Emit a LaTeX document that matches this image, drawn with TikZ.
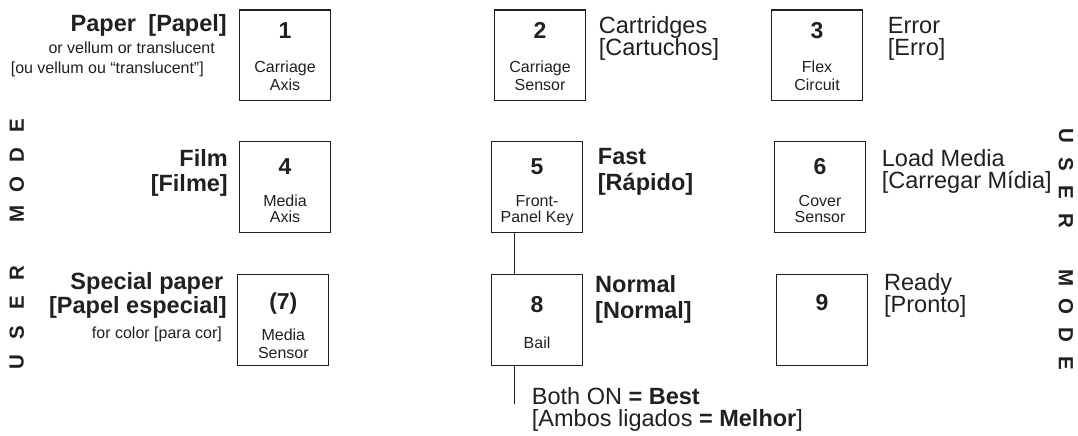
\documentclass[tikz,border=0pt]{standalone}
\usepackage{fontspec}
\setmainfont{Liberation Sans}
\definecolor{ink}{RGB}{35,31,32}
\begin{document}
\begin{tikzpicture}[x=1pt,y=-1pt,
  box/.style={draw=ink, line width=1.1pt, minimum width=91pt, minimum height=90.5pt, inner sep=0pt, anchor=north west},
  num/.style={font=\fontsize{23}{23}\selectfont\bfseries, text=ink, inner sep=0pt, anchor=base},
  sub/.style={font=\fontsize{16}{16}\selectfont, text=ink, inner sep=0pt, anchor=base},
  lblb/.style={font=\fontsize{23.5}{23.5}\selectfont\bfseries, text=ink, inner sep=0pt},
  lbl/.style={font={\fontsize{23.5}{22.3}\selectfont\lineskiplimit=-30pt}, text=ink, inner sep=0pt, anchor=base west, align=left},
  small/.style={font=\fontsize{16}{16}\selectfont, text=ink, inner sep=0pt, anchor=base east},
  model/.style={font=\fontsize{20.5}{20.5}\selectfont\bfseries, text=ink, inner sep=0pt, rotate=90},
  moder/.style={font=\fontsize{20.5}{20.5}\selectfont\bfseries, text=ink, inner sep=0pt, rotate=-90},
  conn/.style={draw=ink, line width=1pt}
]
\useasboundingbox (0,0) rectangle (1078,436);

% boxes
\node[box] (b1) at (239,9.5) {};
\node[box] (b2) at (494,9.5) {};
\node[box] (b3) at (771,9.5) {};
\node[box] (b4) at (239,141.3) {};
\node[box] (b5) at (491,141.3) {};
\node[box] (b6) at (774,141.3) {};
\node[box] (b7) at (237.3,274.3) {};
\node[box] (b8) at (491,274.3) {};
\node[box] (b9) at (776,274.3) {};

% numbers
\node[num] (n1) at ([yshift=-29pt]b1.north) {1};
\node[num] (n2) at ([yshift=-29pt]b2.north) {2};
\node[num] (n3) at ([yshift=-29pt]b3.north) {3};
\node[num] (n4) at ([yshift=-33pt]b4.north) {4};
\node[num] (n5) at ([yshift=-33pt]b5.north) {5};
\node[num] (n6) at ([yshift=-33pt]b6.north) {6};
\node[num] (n7) at ([yshift=-35pt]b7.north) {(7)};
\node[num] (n8) at ([yshift=-38pt]b8.north) {8};
\node[num] (n9) at ([yshift=-36pt]b9.north) {9};

% box sub-labels
\node[sub] (s1a) at ([yshift=-63.5pt]b1.north) {Carriage};
\node[sub] (s1b) at ([yshift=-81pt]b1.north) {Axis};
\node[sub] (s2a) at ([yshift=-63.5pt]b2.north) {Carriage};
\node[sub] (s2b) at ([yshift=-81pt]b2.north) {Sensor};
\node[sub] (s3a) at ([yshift=-63.5pt]b3.north) {Flex};
\node[sub] (s3b) at ([yshift=-81pt]b3.north) {Circuit};
\node[sub] (s4a) at ([yshift=-65pt]b4.north) {Media};
\node[sub] (s4b) at ([yshift=-81pt]b4.north) {Axis};
\node[sub] (s5a) at ([yshift=-65pt]b5.north) {Front-};
\node[sub] (s5b) at ([yshift=-81pt]b5.north) {Panel Key};
\node[sub] (s6a) at ([yshift=-65pt]b6.north) {Cover};
\node[sub] (s6b) at ([yshift=-81pt]b6.north) {Sensor};
\node[sub] (s7a) at ([yshift=-66pt]b7.north) {Media};
\node[sub] (s7b) at ([yshift=-84pt]b7.north) {Sensor};
\node[sub] (s8a) at ([yshift=-74pt]b8.north) {Bail};

% left labels
\node[lblb, anchor=base east] (t1a) at (227,31.7) {Paper\hspace{0.25em} [Papel]};
\node[small] (t1b) at (215,53.3) {or vellum or translucent};
\node[small] (t1c) at (204,74) {[ou vellum ou “translucent”]};
\node[lblb, anchor=base east] (t4a) at (228,166.5) {Film};
\node[lblb, anchor=base east] (t4b) at (228,191) {[Filme]};
\node[lblb, anchor=base east] (t7a) at (223.5,289.3) {Special paper};
\node[lblb, anchor=base east] (t7b) at (227,313.5) {[Papel especial]};
\node[small] (t7c) at (222,338.5) {for color [para cor]};

% right labels (anchored at the baseline of the last line)
\node[lbl] (t2) at (598.7,55.9) {Cartridges\\{}[Cartuchos]};
\node[lbl] (t3) at (887.7,55.9) {Error\\{}[Erro]};
\node[lblb, anchor=base west] (t5a) at (597.7,164) {Fast};
\node[lblb, anchor=base west] (t5b) at (597.7,190) {[Rápido]};
\node[lbl] (t6) at (881.7,188.3) {Load Media\\{}[Carregar Mídia]};
\node[lblb, anchor=base west] (t8a) at (595,292.7) {Normal};
\node[lblb, anchor=base west] (t8b) at (595,318.3) {[Normal]};
\node[lbl] (t9) at (884,312.3) {Ready\\{}[Pronto]};
\node[lbl] (tb) at (531.7,426.6) {Both ON \textbf{= Best}\\{}[Ambos ligados \textbf{= Melhor}]};

% connectors
\coordinate (lx) at (514,0);
\coordinate (lend) at (514,404);
\draw[conn] (b5.south -| lx) -- (b8.north -| lx);
\draw[conn] (b8.south -| lx) -- (lend);

% USER MODE left (bottom to top)
\foreach \ch/\yy [count=\i] in {U/362,S/332.4,E/302.8,R/273.2,M/214,O/184.4,D/154.8,E/125.2}
  \node[model] (ml\i) at (16.7,\yy) {\ch};
% USER MODE right (top to bottom)
\foreach \ch/\yy [count=\i] in {U/136,S/164.4,E/192.8,R/221.2,M/278,O/306.4,D/334.8,E/363.2}
  \node[moder] (mr\i) at (1066,\yy) {\ch};
\end{tikzpicture}
\end{document}
